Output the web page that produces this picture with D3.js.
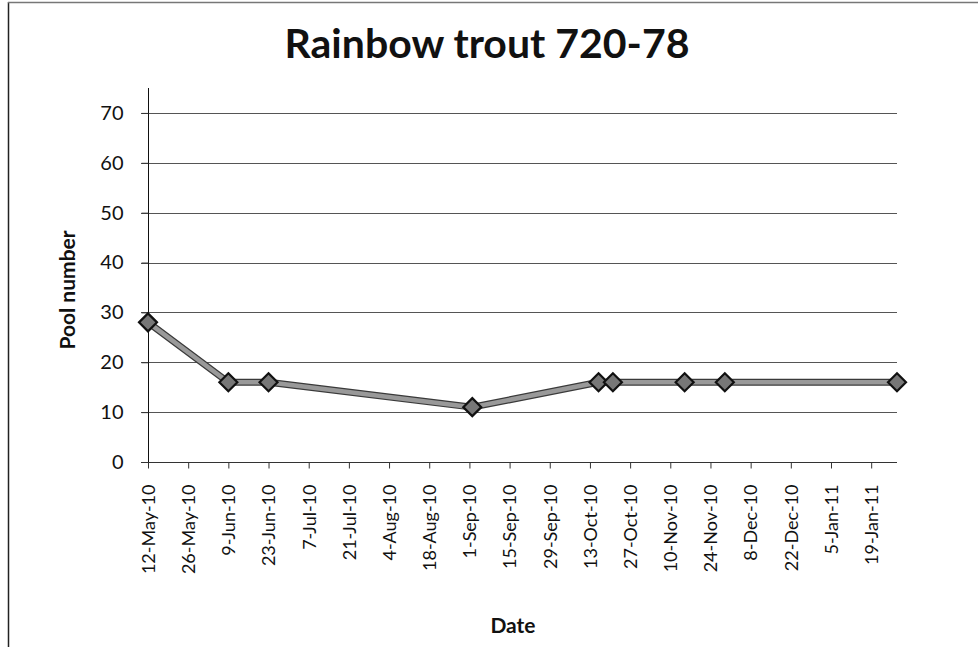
<!DOCTYPE html>
<html>
<head>
<meta charset="utf-8">
<script src="https://cdn.jsdelivr.net/npm/d3@7"></script>
<style>
  html, body { margin: 0; padding: 0; background: #fff; }
  svg { display: block; }
  text { font-family: Lato, "Open Sans", sans-serif; fill: #111; }
</style>
</head>
<body>
<svg id="chart" width="978" height="647"></svg>
<script>
// ---- data ----
const title = "Rainbow trout 720-78";
const xTitle = "Date";
const yTitle = "Pool number";
const sampleDates = ["12-May-10", "9-Jun-10", "23-Jun-10", "2-Sep-10", "16-Oct-10", "21-Oct-10", "15-Nov-10", "29-Nov-10", "28-Jan-11"];
const poolValues = [28, 16, 16, 11, 16, 16, 16, 16, 16];
const xTickLabels = ["12-May-10", "26-May-10", "9-Jun-10", "23-Jun-10", "7-Jul-10", "21-Jul-10", "4-Aug-10", "18-Aug-10", "1-Sep-10", "15-Sep-10", "29-Sep-10", "13-Oct-10", "27-Oct-10", "10-Nov-10", "24-Nov-10", "8-Dec-10", "22-Dec-10", "5-Jan-11", "19-Jan-11"];
const yTicks = [0, 10, 20, 30, 40, 50, 60, 70];

// ---- setup ----
const parse = d3.timeParse("%d-%b-%y");
const data = sampleDates.map((d, i) => ({ date: parse(d), value: poolValues[i] }));
const tickDates = xTickLabels.map(parse);

const svg = d3.select("#chart");
const plotL = 148, plotR = 897, plotT = 88, plotB = 462;

const x = d3.scaleTime()
  .domain([parse("12-May-10"), parse("28-Jan-11")])
  .range([plotL, plotR]);
const y = d3.scaleLinear().domain([0, 75]).range([plotB, plotT]);

// chart border
svg.append("line").attr("x1", 8.5).attr("x2", 8.5).attr("y1", 2).attr("y2", 647)
  .attr("stroke", "#222").attr("stroke-width", 1.5);
svg.append("line").attr("x1", 8).attr("x2", 978).attr("y1", 2.5).attr("y2", 2.5)
  .attr("stroke", "#777").attr("stroke-width", 1.5);

// title
svg.append("text").attr("x", 487).attr("y", 58).attr("text-anchor", "middle")
  .style("font-size", "41px").style("font-weight", "bold").text(title);

// gridlines
svg.append("g").selectAll("line").data(yTicks.filter(v => v > 0)).join("line")
  .attr("x1", plotL - 7).attr("x2", plotR)
  .attr("y1", d => Math.round(y(d)) + 0.5).attr("y2", d => Math.round(y(d)) + 0.5)
  .attr("stroke", "#555").attr("stroke-width", 1);

// y axis
const yAxis = d3.axisLeft(y).tickValues(yTicks).tickSize(7).tickPadding(18).tickFormat(d3.format("d"));
const gy = svg.append("g").attr("transform", `translate(${plotL + 0.5},0)`).call(yAxis);
gy.select(".domain").attr("stroke", "#111").attr("d", `M0,${plotT}V${plotB}`);
gy.selectAll(".tick line").attr("stroke", "#333");
gy.selectAll(".tick text").style("font-size", "20px").style("font-family", "Lato, sans-serif").attr("fill", "#111");

// x axis
const xAxis = d3.axisBottom(x).tickValues(tickDates).tickSize(6).tickPadding(6)
  .tickFormat((d, i) => xTickLabels[i]);
const gx = svg.append("g").attr("transform", `translate(0,${plotB + 0.5})`).call(xAxis);
gx.select(".domain").attr("stroke", "#333").attr("d", `M${plotL - 7},0H${plotR}`);
gx.selectAll(".tick line").attr("stroke", "#333");
gx.selectAll(".tick text")
  .style("font-size", "18px").style("font-family", "Lato, sans-serif").attr("fill", "#111")
  .attr("transform", "rotate(-90)")
  .attr("text-anchor", "end")
  .attr("x", -22).attr("y", 0).attr("dy", "0.35em");

// axis titles
svg.append("text").attr("x", 513).attr("y", 633).attr("text-anchor", "middle")
  .style("font-size", "21px").style("font-weight", "bold").text(xTitle);
svg.append("text").attr("transform", "translate(75,290) rotate(-90)").attr("text-anchor", "middle")
  .style("font-size", "21px").style("font-weight", "bold").text(yTitle);

// line
const line = d3.line().x(d => x(d.date)).y(d => y(d.value));
svg.append("path").datum(data).attr("d", line).attr("fill", "none")
  .attr("stroke", "#3a3a3a").attr("stroke-width", 7).attr("stroke-linejoin", "round");
svg.append("path").datum(data).attr("d", line).attr("fill", "none")
  .attr("stroke", "#999").attr("stroke-width", 4.5).attr("stroke-linejoin", "round");

// markers
svg.append("g").selectAll("path").data(data).join("path")
  .attr("transform", d => `translate(${x(d.date)},${y(d.value)})`)
  .attr("d", "M0,-9L9,0L0,9L-9,0Z")
  .attr("fill", "#777").attr("stroke", "#111").attr("stroke-width", 2.2);
</script>
</body>
</html>
